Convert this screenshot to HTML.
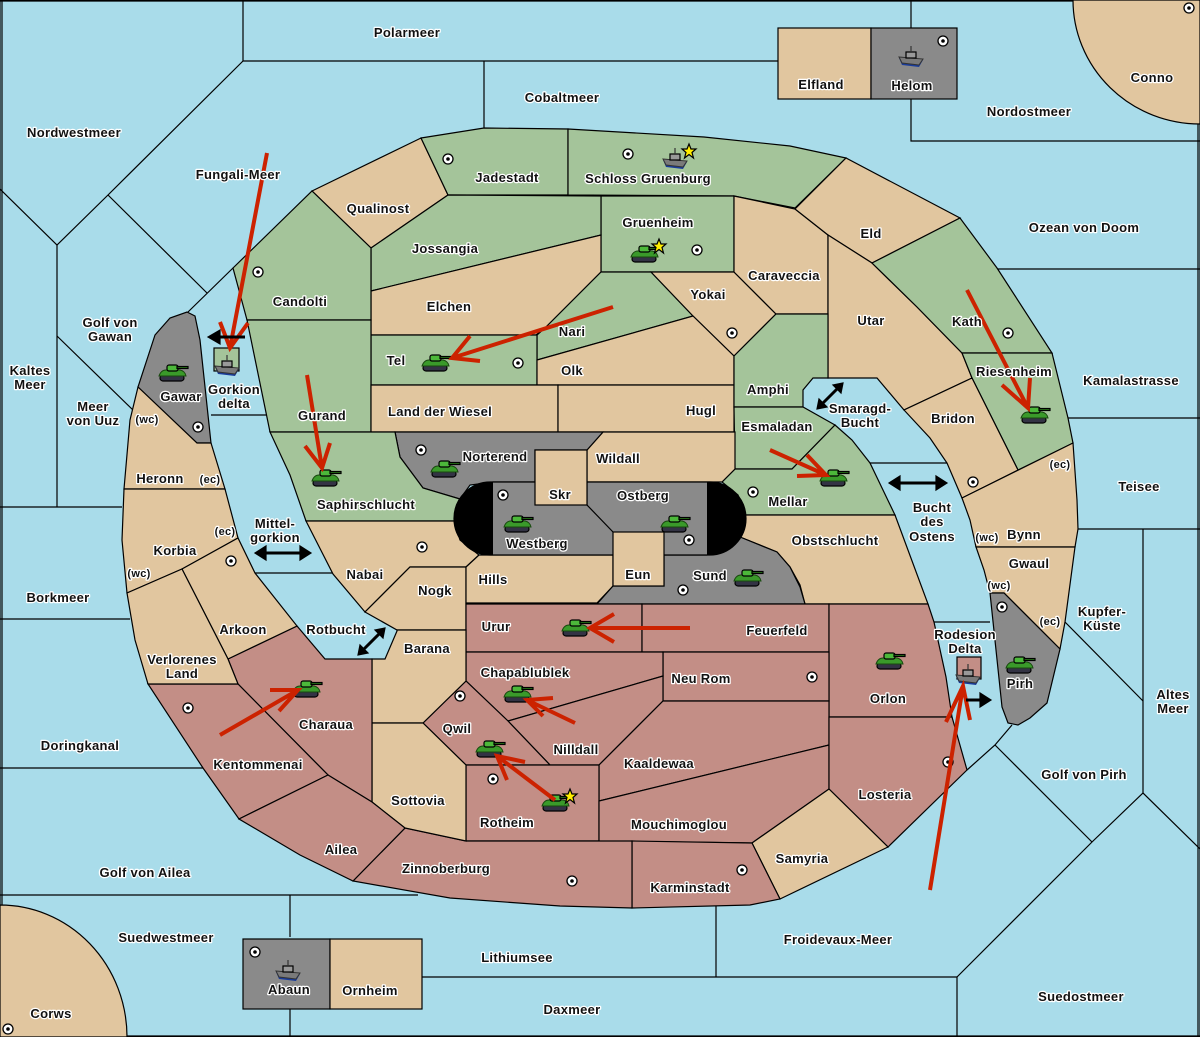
<!DOCTYPE html>
<html><head><meta charset="utf-8"><style>
html,body{margin:0;padding:0;background:#a9dcea;}
svg{display:block}
text{font-family:"Liberation Sans",sans-serif;font-weight:bold;font-size:13px;fill:#111;stroke:#fff;stroke-width:2.5px;paint-order:stroke;stroke-linejoin:round;text-anchor:middle;letter-spacing:0.3px}
text.s{font-size:11px}
.t{fill:#e1c69f}.g{fill:#a4c49a}.r{fill:#c38e86}.y{fill:#8a8a8a}
polygon,rect,path.reg{stroke:#000;stroke-width:1.2}
.ln{stroke:#000;stroke-width:1.2;fill:none}
.ar{stroke:#cc2200;stroke-width:4;fill:none;stroke-linecap:butt}
.ba{stroke:#000;stroke-width:3;fill:none}
</style></head><body>
<svg width="1200" height="1037" viewBox="0 0 1200 1037" xmlns="http://www.w3.org/2000/svg">
<defs>
<symbol id="tank" viewBox="0 0 30 18" overflow="visible">
<rect x="2" y="11" width="24" height="6" rx="3" fill="#334" stroke="none"/>
<path d="M1,12 Q3,6 8,6 L22,6 Q27,7 28,12 Z" fill="#3a9a2a" stroke="#1a4a10" stroke-width="1"/>
<rect x="9" y="1" width="11" height="6" rx="2" fill="#4cb83a" stroke="#1a4a10" stroke-width="1"/>
<rect x="19" y="2.5" width="11" height="2" fill="#2a7a1a" stroke="none"/>
</symbol>
<symbol id="ship" viewBox="0 0 26 22" overflow="visible">
<path d="M1,12 L25,14 L21,21 L4,19 Z" fill="#1a3c9a" stroke="none"/>
<path d="M1,11 L25,13 L21,19 L4,17 Z" fill="#7a7a7a" stroke="#333" stroke-width="1"/>
<rect x="8" y="6" width="10" height="6" fill="#999" stroke="#333" stroke-width="1"/>
<line x1="13" y1="0" x2="13" y2="6" stroke="#333" stroke-width="1.2"/>
</symbol>
<symbol id="sc" viewBox="-6 -6 12 12" overflow="visible">
<circle r="5" fill="#fff" stroke="#000" stroke-width="1.3"/><circle r="1.8" fill="#000"/>
</symbol>
<symbol id="star" viewBox="-8 -8 16 16" overflow="visible">
<polygon points="0,-7 2,-2 7,-2 3,1.5 4.5,7 0,3.5 -4.5,7 -3,1.5 -7,-2 -2,-2" fill="#ffee00" stroke="#887700" stroke-width="0.8"/>
</symbol>
</defs>
<rect x="0" y="0" width="1200" height="1037" fill="#a9dcea"/>
<!-- sea lines -->
<g class="ln">
<polyline points="243,0 243,61 778,61"/>
<polyline points="243,61 108,195 57,245 0,189"/>
<polyline points="108,195 207,293"/>
<polyline points="188,312 233,268"/>
<polyline points="57,245 57,507"/>
<polyline points="57,336 135,412"/>
<polyline points="0,507 122,507"/>
<polyline points="0,619 130,619"/>
<polyline points="0,768 203,768"/>
<polyline points="0,895 418,895"/>
<polyline points="290,895 290,937"/><polyline points="290,1009 290,1037"/>
<polyline points="422,977 957,977"/>
<polyline points="716,906 716,977"/>
<polyline points="957,977 957,1037"/>
<polyline points="957,977 1092,842 1143,793 1200,849"/>
<polyline points="995,745 1092,842"/>
<polyline points="1012,725 995,745 967,770"/>
<polyline points="1143,529 1143,793"/>
<polyline points="1065,622 1143,701"/>
<polyline points="1078,529 1200,529"/>
<polyline points="1068,418 1200,418"/>
<polyline points="997,269 1200,269"/>
<polyline points="911,0 911,28"/><polyline points="911,99 911,141 1200,141"/>
<polyline points="484,61 484,130"/>
<polyline points="211,415 266,415"/>
<polyline points="255,573 333,573"/>
<polyline points="870,463 947,463"/>
<polyline points="934,622 990,622"/>
<polyline points="2,0 2,1037"/><polyline points="1198,0 1198,1037"/><polyline points="0,1036 1200,1036"/><polyline points="0,1 1200,1"/>
</g>
<path class="reg t" d="M1073,0 A127,124 0 0 0 1200,124 L1200,0 Z"/>
<path class="reg t" d="M0,905 A127,132 0 0 1 127,1037 L0,1037 Z"/>
<rect class="t" x="778" y="28" width="93" height="71"/>
<rect class="y" x="871" y="28" width="86" height="71"/>
<rect class="y" x="243" y="939" width="87" height="70"/>
<rect class="t" x="330" y="939" width="92" height="70"/>
<!-- north -->
<polygon class="t" points="312,191 421,138 448,195 371,248"/>
<polygon class="g" points="421,138 484,128 568,129 568,195 448,195"/>
<polygon class="g" points="568,129 704,137 790,146 846,158 795,208 734,196 568,195"/>
<polygon class="g" points="601,196 734,196 734,272 601,272"/>
<polygon class="g" points="371,248 448,195 601,196 601,235 371,291"/>
<polygon class="t" points="371,291 601,235 601,272 546,327 536,335 371,335"/>
<polygon class="g" points="601,272 651,272 693,316 537,360 537,335 546,327"/>
<polygon class="g" points="371,335 537,335 537,385 371,385"/>
<polygon class="t" points="651,272 734,272 776,314 734,356 693,316"/>
<polygon class="t" points="537,360 693,316 734,356 734,385 537,385"/>
<polygon class="t" points="734,196 795,209 828,235 828,314 776,314 734,272"/>
<polygon class="t" points="795,209 846,158 960,218 872,263 828,235"/>
<polygon class="t" points="828,235 872,263 917,307 962,353 972,378 904,410 877,378 828,378"/>
<polygon class="g" points="872,263 960,218 997,268 1052,353 962,353 917,307"/>
<polygon class="g" points="962,353 1052,353 1068,418 1073,443 1018,470 972,378"/>
<polygon class="t" points="972,378 1018,470 962,498 947,463 930,438 904,410"/>
<polygon class="t" points="962,498 1073,443 1077,500 1078,529 1075,547 976,547 970,520"/>
<polygon class="t" points="976,547 1075,547 1065,622 1060,649 1004,593 990,593 984,570"/>
<polygon class="y" points="990,593 1004,593 1060,649 1047,703 1030,718 1018,725 1008,723 1002,707"/>
<polygon class="g" points="233,268 312,191 371,248 371,320 247,320"/>
<polygon class="g" points="247,320 371,320 371,432 270,432"/>
<polygon class="t" points="371,385 558,385 558,432 371,432"/>
<polygon class="t" points="558,385 734,385 734,432 558,432"/>
<polygon class="g" points="734,356 776,314 828,314 828,378 813,378 803,390 803,407 734,407"/>
<polygon class="g" points="734,407 803,407 835,425 792,469 735,469"/>
<polygon class="g" points="735,469 792,469 835,425 852,440 870,463 895,515 745,515 738,495 722,482"/>
<polygon class="t" points="603,432 735,432 735,469 722,482 587,482 587,450"/>
<polygon class="y" points="395,432 603,432 587,450 535,450 535,482 493,482 470,485 460,499 423,488 400,457"/>
<polygon class="g" points="270,432 395,432 400,457 423,488 460,499 454,521 306,521 290,475"/>
<polygon class="t" points="306,521 454,521 460,540 479,555 466,567 410,567 365,612 333,574"/>
<polygon class="t" points="410,567 466,567 466,630 397,630 365,612"/>
<polygon class="t" points="466,567 479,555 613,555 613,586 597,603 466,603"/>
<polygon class="t" points="745,515 895,515 928,604 805,604 800,585 790,567 777,552 740,537"/>
<polygon class="y" points="613,586 664,586 664,555 707,555 740,537 777,552 790,567 800,587 805,604 597,604"/>
<!-- pill -->
<rect class="y" x="454" y="482" width="292" height="73" rx="36.5" ry="36.5"/>
<path d="M493,482 H490.5 A36.5,36.5 0 0 0 490.5,555 H493 Z" fill="#000"/>
<path d="M707,482 H709.5 A36.5,36.5 0 0 1 709.5,555 H707 Z" fill="#000"/>
<polyline class="ln" points="587,482 587,505 613,532"/>
<rect class="t" x="535" y="450" width="52" height="55"/>
<rect class="t" x="613" y="532" width="51" height="54"/>
<!-- south -->
<polygon class="r" points="466,604 642,604 642,652 466,652"/>
<polygon class="r" points="642,604 829,604 829,652 642,652"/>
<polygon class="r" points="829,604 928,604 934,622 946,677 952,717 829,717"/>
<polygon class="r" points="663,652 829,652 829,701 663,701"/>
<polygon class="r" points="466,652 663,652 663,676 508,721 466,681"/>
<polygon class="r" points="508,721 663,676 663,701 599,765 550,765"/>
<polygon class="r" points="423,723 466,681 508,721 550,765 466,765"/>
<polygon class="r" points="599,765 663,701 829,701 829,745 599,801"/>
<polygon class="r" points="466,765 599,765 599,841 466,841"/>
<polygon class="r" points="599,801 829,745 829,789 752,843 599,841"/>
<polygon class="r" points="829,717 952,717 967,770 888,847 829,789"/>
<polygon class="t" points="752,843 829,789 888,847 780,899"/>
<polygon class="r" points="632,841 752,843 780,899 750,905 632,908"/>
<polygon class="r" points="405,828 466,841 632,841 632,908 560,906 450,898 353,881"/>
<polygon class="t" points="372,659 385,659 397,631 397,630 466,630 466,681 423,723 372,723"/>
<polygon class="t" points="372,723 423,723 466,765 466,841 405,828 372,802"/>
<polygon class="r" points="228,659 297,626 325,659 372,659 372,802 328,775 238,684"/>
<polygon class="r" points="148,684 238,684 328,775 239,819 203,768"/>
<polygon class="r" points="239,819 328,775 372,802 405,828 353,881 300,855"/>
<!-- left arm -->
<polygon class="y" points="155,335 170,318 187,312 195,316 200,340 211,443 197,443 138,387"/>
<polygon class="t" points="138,387 197,443 211,443 225,489 124,489 130,420"/>
<polygon class="t" points="124,489 225,489 238,538 182,569 127,593 122,540"/>
<polygon class="t" points="182,569 238,538 255,573 297,626 228,659"/>
<polygon class="t" points="127,593 182,569 228,659 238,684 148,684 135,640"/>
<rect class="g" x="214" y="348" width="25" height="23"/>
<rect class="r" x="957" y="657" width="24" height="22"/>
<!-- supply centers -->
<g>
<use href="#sc" x="442" y="153" width="12" height="12"/>
<use href="#sc" x="622" y="148" width="12" height="12"/>
<use href="#sc" x="691" y="244" width="12" height="12"/>
<use href="#sc" x="252" y="266" width="12" height="12"/>
<use href="#sc" x="726" y="327" width="12" height="12"/>
<use href="#sc" x="1002" y="327" width="12" height="12"/>
<use href="#sc" x="512" y="357" width="12" height="12"/>
<use href="#sc" x="192" y="421" width="12" height="12"/>
<use href="#sc" x="415" y="444" width="12" height="12"/>
<use href="#sc" x="497" y="489" width="12" height="12"/>
<use href="#sc" x="747" y="486" width="12" height="12"/>
<use href="#sc" x="683" y="534" width="12" height="12"/>
<use href="#sc" x="416" y="541" width="12" height="12"/>
<use href="#sc" x="225" y="555" width="12" height="12"/>
<use href="#sc" x="967" y="476" width="12" height="12"/>
<use href="#sc" x="677" y="584" width="12" height="12"/>
<use href="#sc" x="996" y="601" width="12" height="12"/>
<use href="#sc" x="806" y="671" width="12" height="12"/>
<use href="#sc" x="454" y="690" width="12" height="12"/>
<use href="#sc" x="182" y="702" width="12" height="12"/>
<use href="#sc" x="942" y="756" width="12" height="12"/>
<use href="#sc" x="487" y="773" width="12" height="12"/>
<use href="#sc" x="736" y="864" width="12" height="12"/>
<use href="#sc" x="566" y="875" width="12" height="12"/>
<use href="#sc" x="249" y="946" width="12" height="12"/>
<use href="#sc" x="2" y="1023" width="12" height="12"/>
<use href="#sc" x="937" y="35" width="12" height="12"/>
<use href="#sc" x="1183" y="2" width="12" height="12"/>
</g>
<!-- units -->
<g>
<use href="#tank" x="158" y="364" width="30" height="18"/>
<use href="#tank" x="421" y="354" width="30" height="18"/>
<use href="#tank" x="311" y="469" width="30" height="18"/>
<use href="#tank" x="430" y="460" width="30" height="18"/>
<use href="#tank" x="503" y="515" width="30" height="18"/>
<use href="#tank" x="660" y="515" width="30" height="18"/>
<use href="#tank" x="630" y="245" width="30" height="18"/>
<use href="#tank" x="1020" y="406" width="30" height="18"/>
<use href="#tank" x="819" y="469" width="30" height="18"/>
<use href="#tank" x="733" y="569" width="30" height="18"/>
<use href="#tank" x="561" y="619" width="30" height="18"/>
<use href="#tank" x="503" y="685" width="30" height="18"/>
<use href="#tank" x="475" y="740" width="30" height="18"/>
<use href="#tank" x="541" y="794" width="30" height="18"/>
<use href="#tank" x="292" y="680" width="30" height="18"/>
<use href="#tank" x="875" y="652" width="30" height="18"/>
<use href="#tank" x="1005" y="656" width="30" height="18"/>
<use href="#ship" x="214" y="355" width="26" height="22"/>
<use href="#ship" x="662" y="148" width="26" height="22"/>
<use href="#ship" x="898" y="46" width="26" height="22"/>
<use href="#ship" x="955" y="664" width="26" height="22"/>
<use href="#ship" x="275" y="960" width="26" height="22"/>
<use href="#star" x="681" y="143" width="16" height="16"/>
<use href="#star" x="651" y="238" width="16" height="16"/>
<use href="#star" x="562" y="788" width="16" height="16"/>
</g>
<!-- red arrows -->
<g class="ar">
<path d="M267,153 L230,348 M220,322 L230,348 L248,323"/>
<path d="M307,375 L322,468 M305,446 L322,468 L330,443"/>
<path d="M613,307 L452,358 M470,336 L452,358 L480,361"/>
<path d="M967,290 L1028,408 M1002,385 L1028,408 L1030,378"/>
<path d="M770,450 L826,475 M797,476 L826,475 L807,455"/>
<path d="M690,628 L590,628 M614,614 L590,628 L614,642"/>
<path d="M575,723 L527,700 M543,716 L527,700 L553,698"/>
<path d="M555,800 L497,756 M507,780 L497,756 L525,762"/>
<path d="M220,735 L298,690 M270,690 L298,690 L279,711"/>
<path d="M930,890 L963,686 M946,722 L963,686 L970,720"/>
</g>
<!-- black arrows -->
<g>
<path d="M245,337 L218,337" class="ba"/><polygon points="208,337 220,330 220,344" fill="#000"/>
<path d="M265,553 L300,553" class="ba"/><polygon points="255,553 266,546 266,560" fill="#000"/><polygon points="311,553 300,546 300,560" fill="#000"/>
<path d="M363,650 L380,633" class="ba" stroke-width="2"/><polygon points="358,655 360,645 368,653" fill="#000"/><polygon points="385,628 375,630 383,638" fill="#000"/>
<path d="M822,404 L838,388" class="ba" stroke-width="2"/><polygon points="817,409 819,399 827,407" fill="#000"/><polygon points="843,383 833,385 841,393" fill="#000"/>
<path d="M899,483 L937,483" class="ba"/><polygon points="889,483 900,476 900,490" fill="#000"/><polygon points="947,483 936,476 936,490" fill="#000"/>
<path d="M966,700 L982,700" class="ba" stroke-width="4"/><polygon points="991,700 980,693 980,707" fill="#000"/>
</g>
<!-- labels -->
<g>
<text x="407" y="37">Polarmeer</text>
<text x="562" y="102">Cobaltmeer</text>
<text x="821" y="89">Elfland</text>
<text x="912" y="90">Helom</text>
<text x="1152" y="82">Conno</text>
<text x="1029" y="116">Nordostmeer</text>
<text x="74" y="137">Nordwestmeer</text>
<text x="238" y="179">Fungali-Meer</text>
<text x="507" y="182">Jadestadt</text>
<text x="648" y="183">Schloss Gruenburg</text>
<text x="378" y="213">Qualinost</text>
<text x="658" y="227">Gruenheim</text>
<text x="871" y="238">Eld</text>
<text x="1084" y="232">Ozean von Doom</text>
<text x="445" y="253">Jossangia</text>
<text x="784" y="280">Caraveccia</text>
<text x="300" y="306">Candolti</text>
<text x="708" y="299">Yokai</text>
<text x="449" y="311">Elchen</text>
<text x="572" y="336">Nari</text>
<text x="871" y="325">Utar</text>
<text x="967" y="326">Kath</text>
<text x="110" y="327">Golf von</text><text x="110" y="341">Gawan</text>
<text x="396" y="365">Tel</text>
<text x="572" y="375">Olk</text>
<text x="1014" y="376">Riesenheim</text>
<text x="1131" y="385">Kamalastrasse</text>
<text x="30" y="375">Kaltes</text><text x="30" y="389">Meer</text>
<text x="768" y="394">Amphi</text>
<text x="181" y="401">Gawar</text>
<text x="234" y="394">Gorkion</text><text x="234" y="408">delta</text>
<text x="860" y="413">Smaragd-</text><text x="860" y="427">Bucht</text>
<text x="93" y="411">Meer</text><text x="93" y="425">von Uuz</text>
<text class="s" x="147" y="423">(wc)</text>
<text x="440" y="416">Land der Wiesel</text>
<text x="701" y="415">Hugl</text>
<text x="322" y="420">Gurand</text>
<text x="953" y="423">Bridon</text>
<text x="777" y="431">Esmaladan</text>
<text x="495" y="461">Norterend</text>
<text x="618" y="463">Wildall</text>
<text x="160" y="483">Heronn</text>
<text class="s" x="210" y="483">(ec)</text>
<text class="s" x="1060" y="468">(ec)</text>
<text x="1139" y="491">Teisee</text>
<text x="560" y="499">Skr</text>
<text x="643" y="500">Ostberg</text>
<text x="366" y="509">Saphirschlucht</text>
<text x="788" y="506">Mellar</text>
<text x="932" y="512">Bucht</text><text x="932" y="526">des</text><text x="932" y="541">Ostens</text>
<text class="s" x="987" y="541">(wc)</text>
<text x="1024" y="539">Bynn</text>
<text x="275" y="528">Mittel-</text><text x="275" y="542">gorkion</text>
<text class="s" x="225" y="535">(ec)</text>
<text x="537" y="548">Westberg</text>
<text x="835" y="545">Obstschlucht</text>
<text x="175" y="555">Korbia</text>
<text class="s" x="139" y="577">(wc)</text>
<text x="1029" y="568">Gwaul</text>
<text x="365" y="579">Nabai</text>
<text x="638" y="579">Eun</text>
<text x="493" y="584">Hills</text>
<text x="710" y="580">Sund</text>
<text class="s" x="999" y="589">(wc)</text>
<text x="435" y="595">Nogk</text>
<text x="58" y="602">Borkmeer</text>
<text x="1102" y="616">Kupfer-</text><text x="1102" y="630">Küste</text>
<text class="s" x="1050" y="625">(ec)</text>
<text x="496" y="631">Urur</text>
<text x="336" y="634">Rotbucht</text>
<text x="777" y="635">Feuerfeld</text>
<text x="243" y="634">Arkoon</text>
<text x="965" y="639">Rodesion</text><text x="965" y="653">Delta</text>
<text x="427" y="653">Barana</text>
<text x="182" y="664">Verlorenes</text><text x="182" y="678">Land</text>
<text x="525" y="677">Chapablublek</text>
<text x="701" y="683">Neu Rom</text>
<text x="1020" y="688">Pirh</text>
<text x="888" y="703">Orlon</text>
<text x="1173" y="699">Altes</text><text x="1173" y="713">Meer</text>
<text x="326" y="729">Charaua</text>
<text x="457" y="733">Qwil</text>
<text x="576" y="754">Nilldall</text>
<text x="80" y="750">Doringkanal</text>
<text x="258" y="769">Kentommenai</text>
<text x="659" y="768">Kaaldewaa</text>
<text x="1084" y="779">Golf von Pirh</text>
<text x="885" y="799">Losteria</text>
<text x="418" y="805">Sottovia</text>
<text x="507" y="827">Rotheim</text>
<text x="679" y="829">Mouchimoglou</text>
<text x="341" y="854">Ailea</text>
<text x="802" y="863">Samyria</text>
<text x="446" y="873">Zinnoberburg</text>
<text x="145" y="877">Golf von Ailea</text>
<text x="690" y="892">Karminstadt</text>
<text x="166" y="942">Suedwestmeer</text>
<text x="838" y="944">Froidevaux-Meer</text>
<text x="517" y="962">Lithiumsee</text>
<text x="289" y="994">Abaun</text>
<text x="370" y="995">Ornheim</text>
<text x="1081" y="1001">Suedostmeer</text>
<text x="572" y="1014">Daxmeer</text>
<text x="51" y="1018">Corws</text>
</g>
</svg>
</body></html>
